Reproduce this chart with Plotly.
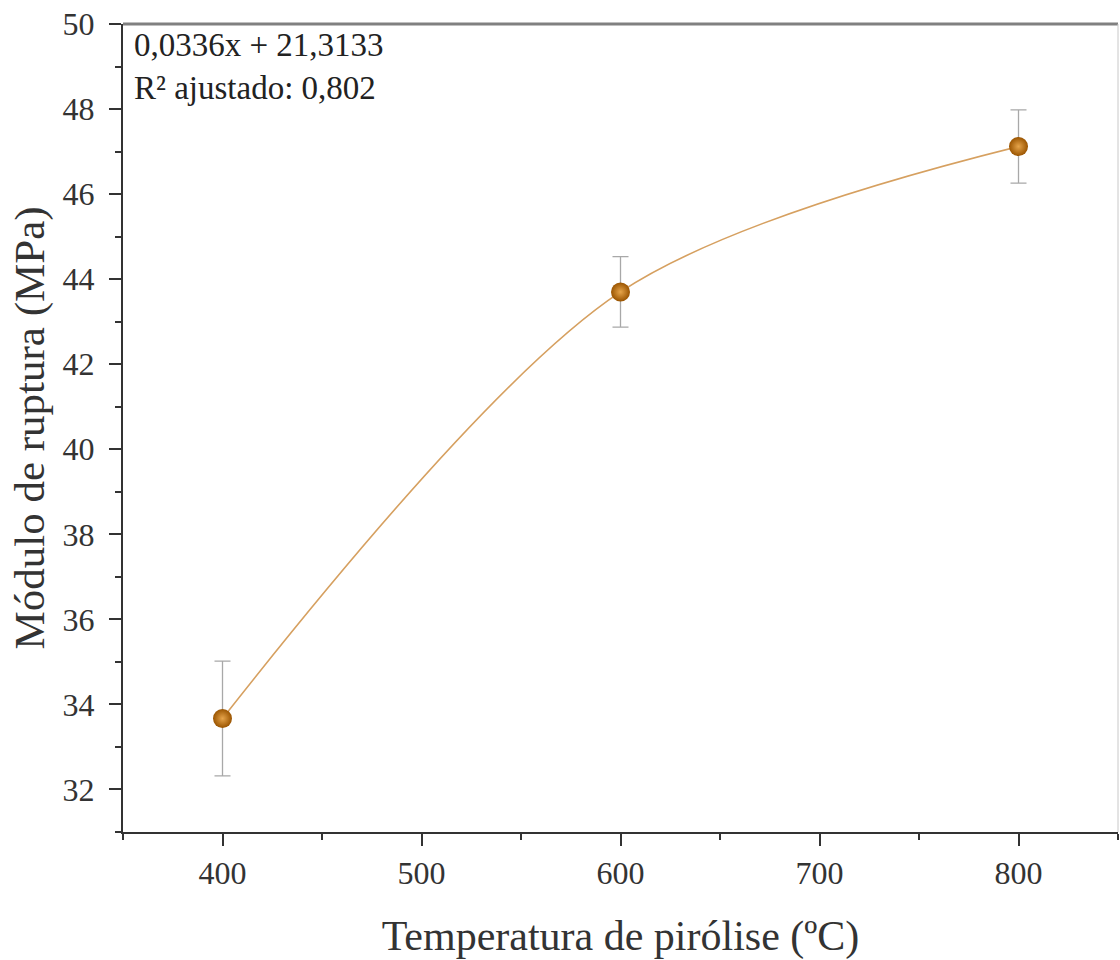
import plotly.graph_objects as go

temperatura = [400, 600, 800]
modulo = [33.67, 43.70, 47.12]
erro = [1.35, 0.83, 0.86]
x_ticks = [400, 500, 600, 700, 800]
y_ticks = [32, 34, 36, 38, 40, 42, 44, 46, 48, 50]
eq_text = "0,0336x + 21,3133<br>R² ajustado: 0,802"

FONT = "Liberation Serif"

fig = go.Figure()
fig.add_trace(go.Scatter(
    x=temperatura, y=modulo, mode="lines",
    line=dict(color="#D6A060", width=1.6, shape="spline", smoothing=0.9),
    hoverinfo="skip", showlegend=False,
))
fig.add_trace(go.Scatter(
    x=temperatura, y=modulo, mode="markers",
    error_y=dict(type="data", array=erro, visible=True, color="#A8A8A8", thickness=1.3, width=8),
    marker=dict(size=19, color="#9A5400",
                gradient=dict(type="radial", color="#E6A44A"),
                line=dict(width=0)),
    showlegend=False,
))

fig.add_annotation(
    x=0, y=1, xref="paper", yref="paper", xanchor="left", yanchor="top",
    xshift=9, yshift=-1,
    text=eq_text, showarrow=False, align="left",
    font=dict(family=FONT, size=33, color="#222"),
)

# top and right frame lines
fig.add_shape(type="line", xref="paper", yref="paper", x0=0, x1=1, y0=1, y1=1,
              line=dict(color="#808080", width=3))
fig.add_shape(type="line", xref="paper", yref="paper", x0=1, x1=1, y0=0, y1=1,
              line=dict(color="#C8C8C8", width=1))

fig.update_xaxes(
    range=[350, 850], tickvals=x_ticks, ticktext=[str(v) for v in x_ticks],
    showline=True, linecolor="#333", linewidth=2,
    ticks="outside", ticklen=12, tickwidth=2, tickcolor="#333",
    minor=dict(dtick=50, tick0=350, ticks="outside", ticklen=6, tickwidth=2, tickcolor="#333"),
    showgrid=False, zeroline=False, ticklabelstandoff=0,
    tickfont=dict(family=FONT, size=32, color="#333"),
    title=dict(text="Temperatura de pirólise (ºC)", font=dict(family=FONT, size=42, color="#333"),
               standoff=38),
)
fig.update_yaxes(
    range=[31, 50], tickvals=y_ticks, ticktext=[str(v) for v in y_ticks],
    showline=True, linecolor="#333", linewidth=2,
    ticks="outside", ticklen=12, tickwidth=2, tickcolor="#333",
    minor=dict(dtick=1, tick0=31, ticks="outside", ticklen=6, tickwidth=2, tickcolor="#333"),
    showgrid=False, zeroline=False, ticklabelstandoff=8,
    tickfont=dict(family=FONT, size=32, color="#333"),
    title=dict(text="Módulo de ruptura (MPa)", font=dict(family=FONT, size=43, color="#333"),
               standoff=5),
)

fig.update_layout(
    width=1120, height=960,
    margin=dict(l=123, r=2, t=24, b=128),
    paper_bgcolor="white", plot_bgcolor="white",
)

fig.write_html("out.html")
